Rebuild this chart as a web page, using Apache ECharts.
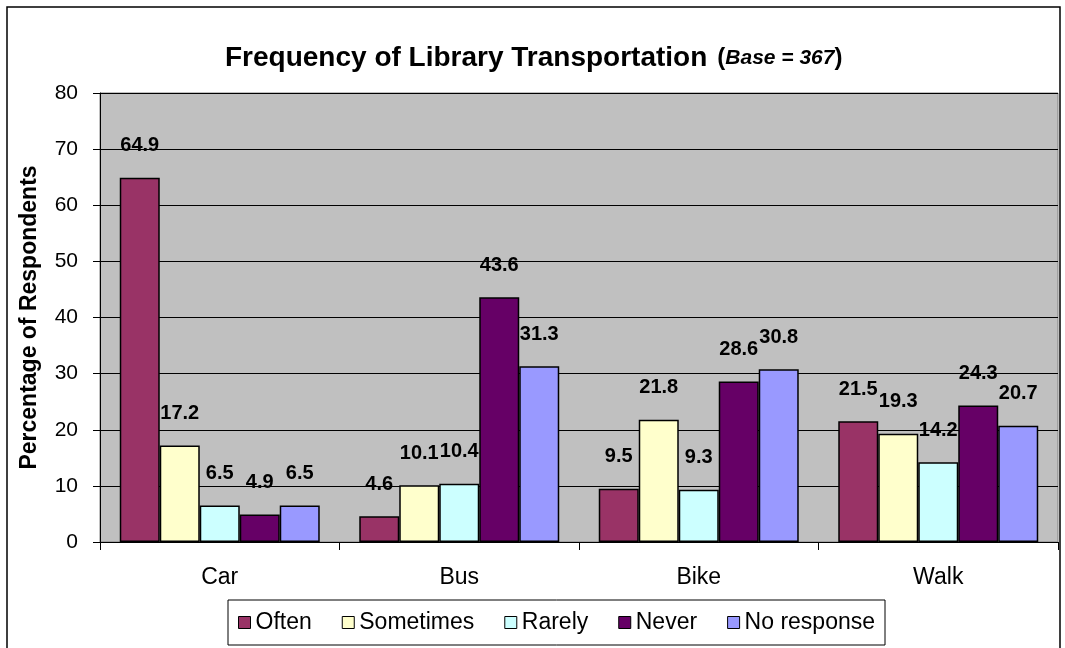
<!DOCTYPE html>
<html>
<head>
<meta charset="utf-8">
<script src="https://cdn.jsdelivr.net/npm/echarts@6/dist/echarts.min.js"></script>
<style>
  html,body{margin:0;padding:0;background:#fff;}
  #chart{width:1065px;height:648px;}
</style>
</head>
<body>
<div id="chart"></div>
<script>
// 数据
var categories = ['Car', 'Bus', 'Bike', 'Walk'];
var often = [64.9, 4.6, 9.5, 21.5];
var sometimes = [17.2, 10.1, 21.8, 19.3];
var rarely = [6.5, 10.4, 9.3, 14.2];
var never = [4.9, 43.6, 28.6, 24.3];
var noResponse = [6.5, 31.3, 30.8, 20.7];
var seriesNames = ['Often', 'Sometimes', 'Rarely', 'Never', 'No response'];
var colors = ['#993366', '#FFFFCC', '#CCFFFF', '#660066', '#9999FF'];

var font = 'Liberation Sans, Arial, sans-serif';

function makeSeries(name, data, color) {
    return {
        name: name,
        type: 'bar',
        data: data,
        barGap: '0%',
        barCategoryGap: '16.5%',
        itemStyle: {color: color, borderColor: '#000', borderWidth: 1.5},
        label: {
            show: true,
            position: 'top',
            distance: 22,
            color: '#000',
            fontFamily: font,
            fontWeight: 'bold',
            fontSize: 20,
            formatter: function (p) { return p.value.toFixed(1); }
        }
    };
}

var chart = echarts.init(document.getElementById('chart'));
var option = {
    animation: false,
    backgroundColor: '#fff',
    color: colors,
    title: {
        text: '{a|Frequency of Library Transportation}  {b|(}{c|Base = 367}{b|)}',
        left: 220,
        top: 39,
        textStyle: {
            rich: {
                a: {fontFamily: font, fontWeight: 'bold', fontSize: 28, color: '#000'},
                b: {fontFamily: font, fontWeight: 'bold', fontSize: 24, color: '#000'},
                c: {fontFamily: font, fontWeight: 'bold', fontStyle: 'italic', fontSize: 21, color: '#000'}
            }
        }
    },
    graphic: [{
        type: 'rect',
        shape: {x: 7, y: 7, width: 1053, height: 700},
        style: {fill: 'none', stroke: '#000', lineWidth: 1.5},
        silent: true
    }],
    legend: {
        data: seriesNames,
        left: 228,
        top: 600,
        orient: 'horizontal',
        icon: 'rect',
        itemWidth: 12,
        itemHeight: 12,
        itemGap: 30,
        padding: [11, 10, 11, 10],
        borderColor: '#000',
        borderWidth: 1,
        itemStyle: {borderColor: '#000', borderWidth: 1},
        textStyle: {fontFamily: font, fontSize: 23, color: '#000'}
    },
    grid: {
        left: 100,
        right: 7,
        top: 93,
        bottom: 106,
        show: true,
        backgroundColor: '#C0C0C0',
        borderColor: '#808080',
        borderWidth: 1
    },
    xAxis: {
        type: 'category',
        data: categories,
        axisLine: {lineStyle: {color: '#000', width: 1}},
        axisTick: {show: true, length: 8, lineStyle: {color: '#000'}},
        axisLabel: {fontFamily: font, fontSize: 23, color: '#000', margin: 24}
    },
    yAxis: {
        type: 'value',
        min: 0,
        max: 80,
        interval: 10,
        name: 'Percentage of Respondents',
        nameLocation: 'middle',
        nameGap: 59,
        nameTextStyle: {fontFamily: font, fontWeight: 'bold', fontSize: 23, color: '#000'},
        axisLine: {show: true, lineStyle: {color: '#000', width: 1}},
        axisTick: {show: true, length: 7, inside: false, lineStyle: {color: '#000'}},
        axisLabel: {fontFamily: font, fontSize: 21, color: '#000', margin: 22},
        splitLine: {show: true, lineStyle: {color: '#000', width: 1}}
    },
    series: [
        makeSeries(seriesNames[0], often, colors[0]),
        makeSeries(seriesNames[1], sometimes, colors[1]),
        makeSeries(seriesNames[2], rarely, colors[2]),
        makeSeries(seriesNames[3], never, colors[3]),
        makeSeries(seriesNames[4], noResponse, colors[4])
    ]
};
chart.setOption(option);
</script>
</body>
</html>
